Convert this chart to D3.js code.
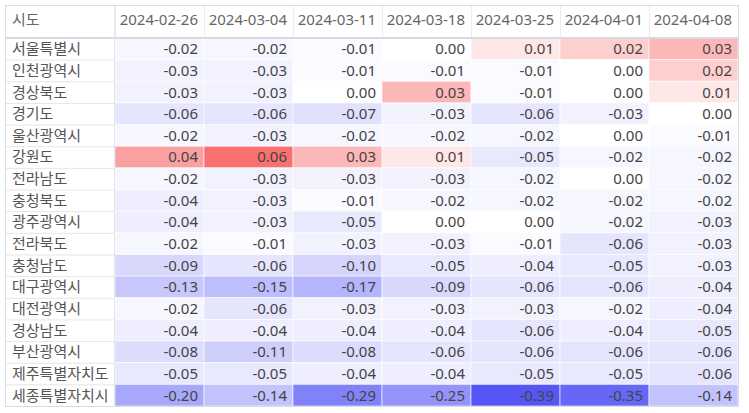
<!DOCTYPE html>
<html><head><meta charset="utf-8">
<script src="https://cdn.jsdelivr.net/npm/d3@7"></script>
<style>body{margin:0;background:#fff;}svg{display:block;}</style>
</head><body><svg id="c" width="749" height="413"></svg>
<script>
const dates = ["2024-02-26","2024-03-04","2024-03-11","2024-03-18","2024-03-25","2024-04-01","2024-04-08"];
const regions = ["서울특별시","인천광역시","경상북도","경기도","울산광역시","강원도","전라남도","충청북도","광주광역시","전라북도","충청남도","대구광역시","대전광역시","경상남도","부산광역시","제주특별자치도","세종특별자치시"];
const headerLabel = "시도";
const v서울 = [-0.02,-0.02,-0.01,0.00,0.01,0.02,0.03];
const v인천 = [-0.03,-0.03,-0.01,-0.01,-0.01,0.00,0.02];
const v경북 = [-0.03,-0.03,0.00,0.03,-0.01,0.00,0.01];
const v경기 = [-0.06,-0.06,-0.07,-0.03,-0.06,-0.03,0.00];
const v울산 = [-0.02,-0.03,-0.02,-0.02,-0.02,0.00,-0.01];
const v강원 = [0.04,0.06,0.03,0.01,-0.05,-0.02,-0.02];
const v전남 = [-0.02,-0.03,-0.03,-0.03,-0.02,0.00,-0.02];
const v충북 = [-0.04,-0.03,-0.01,-0.02,-0.02,-0.02,-0.02];
const v광주 = [-0.04,-0.03,-0.05,0.00,0.00,-0.02,-0.03];
const v전북 = [-0.02,-0.01,-0.03,-0.03,-0.01,-0.06,-0.03];
const v충남 = [-0.09,-0.06,-0.10,-0.05,-0.04,-0.05,-0.03];
const v대구 = [-0.13,-0.15,-0.17,-0.09,-0.06,-0.06,-0.04];
const v대전 = [-0.02,-0.06,-0.03,-0.03,-0.03,-0.02,-0.04];
const v경남 = [-0.04,-0.04,-0.04,-0.04,-0.06,-0.04,-0.05];
const v부산 = [-0.08,-0.11,-0.08,-0.06,-0.06,-0.06,-0.06];
const v제주 = [-0.05,-0.05,-0.04,-0.04,-0.05,-0.05,-0.06];
const v세종 = [-0.20,-0.14,-0.29,-0.25,-0.39,-0.35,-0.14];
const values = [v서울,v인천,v경북,v경기,v울산,v강원,v전남,v충북,v광주,v전북,v충남,v대구,v대전,v경남,v부산,v제주,v세종];

const svg = d3.select("#c");
const font = "'Noto Sans','Noto Sans CJK KR',sans-serif";
const fs = 15;
const L = 6, T = 6, headerH = 32, nameW = 109, R = 738, B = 406;
const x = d3.scaleBand().domain(dates).range([L+nameW, R]);
const y = d3.scaleBand().domain(regions).range([T+headerH, B]);
const all = values.flat();
const color = d3.scaleDiverging()
  .domain([d3.min(all), 0, d3.max(all)])
  .interpolator(t => t < 0.5 ? d3.interpolateRgb("rgb(86,86,246)","#ffffff")(t*2) : d3.interpolateRgb("#ffffff","rgb(248,112,112)")((t-0.5)*2));
const fmt = v => d3.format(".2f")(v).replace("\u2212","-");

const cells = [];
regions.forEach((r,i)=>dates.forEach((d,j)=>cells.push({r,d,v:values[i][j]})));

svg.append("g").selectAll("rect").data(cells).join("rect")
  .attr("x", d=>x(d.d)).attr("y", d=>y(d.r))
  .attr("width", x.bandwidth()).attr("height", y.bandwidth())
  .attr("fill", d=>color(d.v))
  .attr("stroke", "rgba(255,255,255,0.6)").attr("stroke-width", 1);

svg.append("g").selectAll("text").data(cells).join("text")
  .attr("x", d=>x(d.d)+x.bandwidth()-6).attr("y", d=>y(d.r)+y.bandwidth()/2)
  .attr("dy","0.36em").attr("text-anchor","end")
  .attr("font-family", font).attr("font-size", fs).attr("fill", "#444")
  .text(d=>fmt(d.v));

svg.append("g").selectAll("line").data(regions.slice(1)).join("line")
  .attr("x1", L).attr("x2", L+nameW).attr("y1", d=>y(d)+0.5).attr("y2", d=>y(d)+0.5)
  .attr("stroke", "#e6e6e6");
svg.append("g").selectAll("text").data(regions).join("text")
  .attr("x", L+6).attr("y", d=>y(d)+y.bandwidth()/2).attr("dy","0.36em")
  .attr("font-family", font).attr("font-size", fs).attr("fill", "#555")
  .text(d=>d);

svg.append("g").selectAll("line").data(dates).join("line")
  .attr("x1", d=>Math.round(x(d))+0.5).attr("x2", d=>Math.round(x(d))+0.5)
  .attr("y1", T).attr("y2", T+headerH).attr("stroke", "#ececec");
svg.append("g").selectAll("text").data(dates).join("text")
  .attr("x", d=>x(d)+x.bandwidth()-6).attr("y", T+headerH/2-2).attr("dy","0.36em")
  .attr("text-anchor","end")
  .attr("font-family", font).attr("font-size", fs).attr("fill", "#666")
  .text(d=>d);
svg.append("text").attr("x", L+6).attr("y", T+headerH/2-2).attr("dy","0.36em")
  .attr("font-family", font).attr("font-size", fs).attr("fill", "#666").text(headerLabel);

svg.append("line").attr("x1", L).attr("x2", R).attr("y1", T+headerH).attr("y2", T+headerH)
  .attr("stroke", "#d8d8e4").attr("stroke-width", 2);
svg.append("line").attr("x1", L+nameW-0.5).attr("x2", L+nameW-0.5).attr("y1", T).attr("y2", B)
  .attr("stroke", "#e4e4ec");
svg.append("rect").attr("x", L-0.5).attr("y", T-0.5).attr("width", R-L+1).attr("height", B-T+1)
  .attr("fill","none").attr("stroke","#dcdcdc");
</script></body></html>
